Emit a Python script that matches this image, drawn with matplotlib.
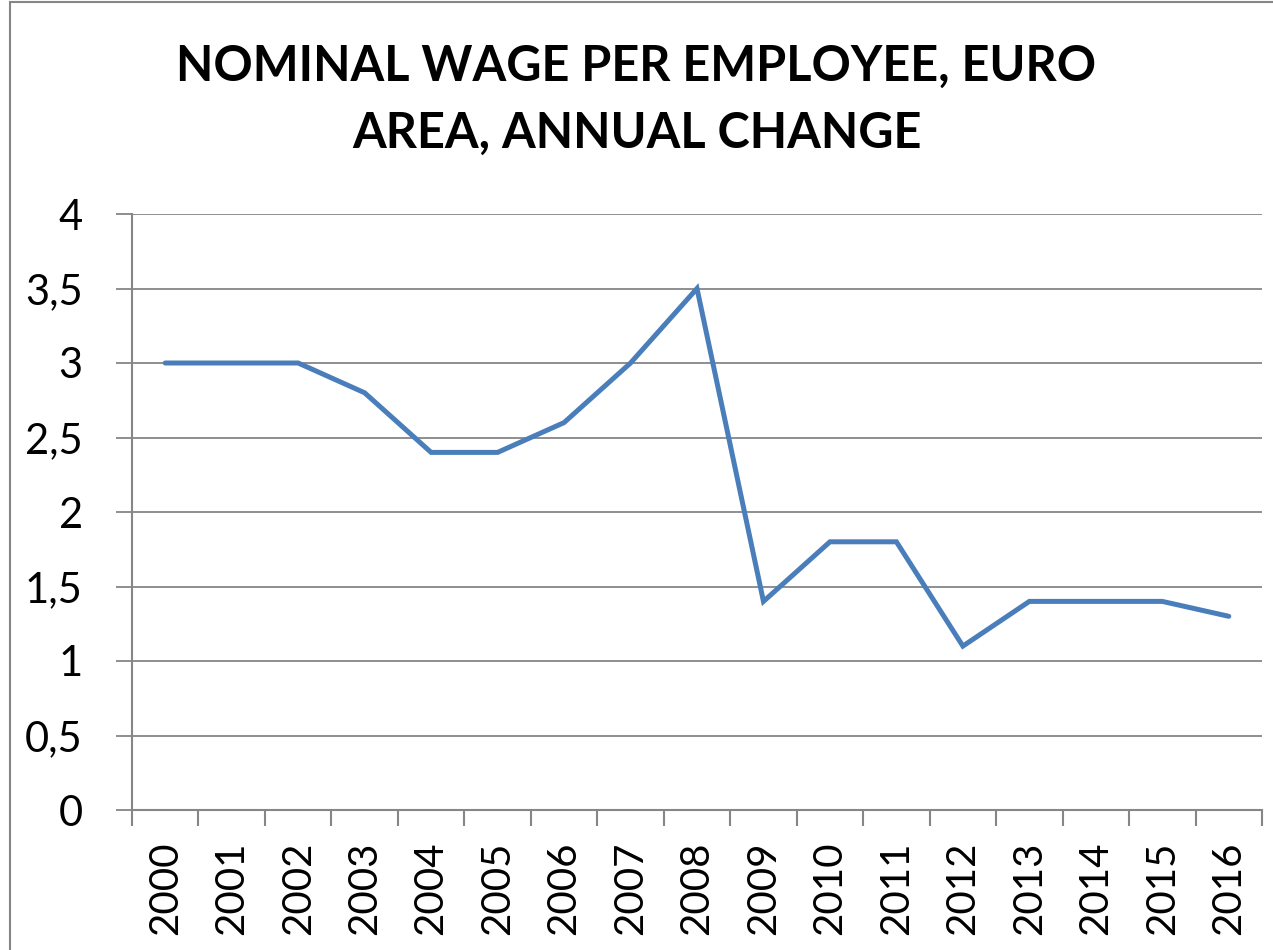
import matplotlib.pyplot as plt
from matplotlib.patches import Rectangle
from matplotlib.ticker import FuncFormatter

years = [str(y) for y in range(2000, 2017)]
wage_change = [3.0, 3.0, 3.0, 2.8, 2.4, 2.4, 2.6, 3.0, 3.5,
               1.4, 1.8, 1.8, 1.1, 1.4, 1.4, 1.4, 1.3]
y_ticks = [0, 0.5, 1, 1.5, 2, 2.5, 3, 3.5, 4]

plt.rcParams['font.family'] = ['Lato', 'DejaVu Sans']

W, H = 1273, 950
fig = plt.figure(figsize=(W / 100, H / 100), dpi=100)

# outer chart frame
fig.patches.append(Rectangle((10 / W, -0.1), 1.2, 1.098, transform=fig.transFigure,
                             fill=False, edgecolor='#868686', linewidth=1.5))

ax = fig.add_axes([132 / W, (H - 810) / H, (1262 - 132) / W, (810 - 214) / H])

x = list(range(len(years)))
ax.plot(x, wage_change, color='#4A7EBB', linewidth=3.6, solid_capstyle='round',
        solid_joinstyle='miter')

ax.set_xlim(-0.5, len(years) - 0.5)
ax.set_ylim(0, 4)
ax.set_yticks(y_ticks)
ax.yaxis.set_major_formatter(FuncFormatter(lambda v, p: f"{v:g}".replace('.', ',')))
ax.set_xticks(x)
ax.set_xticklabels(years, rotation=90)
ax.set_xticks([i - 0.5 for i in range(len(years) + 1)], minor=True)

ax.grid(axis='y', color='#868686', linewidth=1.3)
ax.set_axisbelow(True)
for s in ['top', 'right']:
    ax.spines[s].set_visible(False)
for s in ['left', 'bottom']:
    ax.spines[s].set_color('#868686')
    ax.spines[s].set_linewidth(1.5)

ax.tick_params(axis='x', which='major', length=0, labelsize=29, pad=23)
ax.tick_params(axis='x', which='minor', length=11.5, color='#868686', width=1.5)
ax.tick_params(axis='y', length=11.5, color='#868686', width=1.3, labelsize=30, pad=24)

fig.text(0.5, 0.895, "NOMINAL WAGE PER EMPLOYEE, EURO\nAREA, ANNUAL CHANGE",
         ha='center', va='center', fontsize=35, fontweight='bold', linespacing=1.6)

fig.savefig('out.png', dpi=100)
